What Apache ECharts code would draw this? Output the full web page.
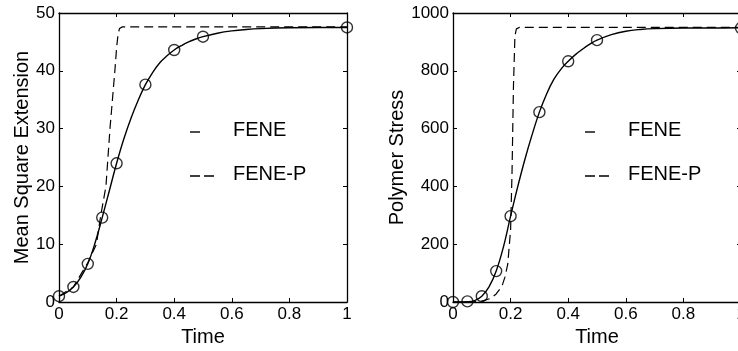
<!DOCTYPE html>
<html>
<head>
<meta charset="utf-8">
<script src="https://cdn.jsdelivr.net/npm/echarts@6/dist/echarts.min.js"></script>
<style>
html,body{margin:0;padding:0;background:#fff;}
#chart{width:738px;height:351px;}
</style>
</head>
<body>
<div id="chart"></div>
<script>
// ---- Left panel: Mean Square Extension ----
const timeSolidL = [0,0.025,0.05,0.075,0.1,0.125,0.15,0.175,0.2,0.225,0.25,0.275,0.3,0.325,0.35,0.375,0.4,0.425,0.45,0.475,0.5,0.55,0.6,0.65,0.7,0.8,0.9,1.0];
const extFENE    = [1.0,1.6,2.6,4.2,6.6,10.2,14.6,19.3,24.0,28.2,31.8,34.9,37.6,39.7,41.4,42.6,43.6,44.35,45.0,45.5,45.9,46.5,46.9,47.15,47.3,47.45,47.5,47.5];
const timeDashL  = [0,0.05,0.1,0.13,0.145,0.163,0.177,0.194,0.2,0.205,0.21,0.215,0.22,1.0];
const extFENEP   = [1.0,2.6,6.8,10,15,20,30,40,44,46.3,47.3,47.6,47.6,47.6];
const timeMarkL  = [0,0.05,0.1,0.15,0.2,0.3,0.4,0.5,1.0];
const extMark    = [1.0,2.6,6.6,14.6,24.0,37.6,43.6,45.9,47.5];

// ---- Right panel: Polymer Stress ----
const timeSolidR = [0,0.05,0.075,0.1,0.125,0.15,0.175,0.2,0.225,0.25,0.275,0.3,0.325,0.35,0.375,0.4,0.425,0.45,0.475,0.5,0.55,0.6,0.65,0.7,0.8,0.9,1.0];
const stressFENE = [0,1,5,20,52,107,190,297,400,495,580,657,720,770,806,833,856,875,892,906,925,937,943,946,948,948,949];
const timeDashR  = [0,0.05,0.1,0.13,0.15,0.17,0.18,0.19,0.2,0.205,0.21,0.215,0.22,0.23,1.0];
const stressFENEP= [0,0,3,12,28,55,85,130,250,450,750,920,945,950,950];
const timeMarkR  = [0,0.05,0.1,0.15,0.2,0.3,0.4,0.5,1.0];
const stressMark = [0,2,20,107,297,657,833,906,948];

// ---- Axis / labels ----
const xTicks = {min:0, max:1, interval:0.2};
const yTicksL = {min:0, max:50, interval:10};
const yTicksR = {min:0, max:1000, interval:200};
const xName = 'Time';
const yNameL = 'Mean Square Extension';
const yNameR = 'Polymer Stress';
const legendNames = ['FENE','FENE-P'];

const FONT = 'Liberation Sans, Arial, Helvetica, sans-serif';
const zip = (a,b) => a.map((v,i)=>[v,b[i]]);

const chart = echarts.init(document.getElementById('chart'), null, {renderer:'canvas'});

function xAx(grid, pos){
  const bottom = pos === 'bottom';
  return {
    type:'value', gridIndex:grid, position:pos, min:xTicks.min, max:xTicks.max, interval:xTicks.interval,
    name: bottom ? xName : '', nameLocation:'middle', nameGap:25,
    nameTextStyle:{fontFamily:FONT, fontSize:20, color:'#000'},
    axisLine:{show:true, onZero:false, lineStyle:{color:'#000', width:1.3}},
    axisTick:{show:true, inside:true, length:4, lineStyle:{color:'#000'}},
    axisLabel:{show:bottom, margin:4, fontFamily:FONT, fontSize:17, color:'#000', formatter:v=>String(v)},
    splitLine:{show:false}
  };
}
function yAx(grid, pos, t, name, gap){
  const left = pos === 'left';
  return {
    type:'value', gridIndex:grid, position:pos, min:t.min, max:t.max, interval:t.interval,
    name: left ? name : '', nameLocation:'middle', nameGap: gap || 26,
    nameTextStyle:{fontFamily:FONT, fontSize:20, color:'#000'},
    axisLine:{show:true, onZero:false, lineStyle:{color:'#000', width:1.3}},
    axisTick:{show:true, inside:true, length:4, lineStyle:{color:'#000'}},
    axisLabel:{show:left, margin:4, fontFamily:FONT, fontSize:17, color:'#000', formatter:v=>String(v)},
    splitLine:{show:false}
  };
}

const opt = {
  animation:false,
  backgroundColor:'#fff',
  grid:[
    {left:59, top:13, width:288, height:289, outerBoundsMode:'none', containLabel:false},
    {left:453, top:13, width:288, height:289, outerBoundsMode:'none', containLabel:false}
  ],
  xAxis:[xAx(0,'bottom'), xAx(0,'top'), xAx(1,'bottom'), xAx(1,'top')],
  yAxis:[
    yAx(0,'left',yTicksL,yNameL,26),
    yAx(0,'right',yTicksL,''),
    yAx(1,'left',yTicksR,yNameR,46),
    yAx(1,'right',yTicksR,'')
  ],
  series:[
    {name:'FENE', type:'line', xAxisIndex:0, yAxisIndex:0, data:zip(timeSolidL, extFENE), smooth:0.4, showSymbol:false, lineStyle:{color:'#000', width:1.4}},
    {name:'FENE-P', type:'line', xAxisIndex:0, yAxisIndex:0, data:zip(timeDashL, extFENEP), showSymbol:false, lineStyle:{color:'#000', width:1.2, type:[9,5]}},
    {name:'FENE markers', type:'scatter', xAxisIndex:0, yAxisIndex:0, data:zip(timeMarkL, extMark), symbol:'circle', symbolSize:11, itemStyle:{color:'rgba(0,0,0,0)', borderColor:'#000', borderWidth:1.4}},
    {name:'FENE', type:'line', xAxisIndex:2, yAxisIndex:2, data:zip(timeSolidR, stressFENE), smooth:0.4, showSymbol:false, lineStyle:{color:'#000', width:1.4}},
    {name:'FENE-P', type:'line', xAxisIndex:2, yAxisIndex:2, data:zip(timeDashR, stressFENEP), showSymbol:false, lineStyle:{color:'#000', width:1.2, type:[9,5]}},
    {name:'FENE markers', type:'scatter', xAxisIndex:2, yAxisIndex:2, data:zip(timeMarkR, stressMark), symbol:'circle', symbolSize:11, itemStyle:{color:'rgba(0,0,0,0)', borderColor:'#000', borderWidth:1.4}}
  ],
  graphic:[]
};

// legends drawn inside each panel
function legendGraphics(x0, yRow1, yRow2){
  return [
    {type:'line', shape:{x1:x0, y1:yRow1+2, x2:x0+10, y2:yRow1+2}, style:{stroke:'#000', lineWidth:1.4}},
    {type:'text', left:x0+43, top:yRow1-10, style:{text:legendNames[0], font:'20px '+FONT, fill:'#000'}},
    {type:'line', shape:{x1:x0, y1:yRow2+2, x2:x0+24, y2:yRow2+2}, style:{stroke:'#000', lineWidth:1.4, lineDash:[10,4]}},
    {type:'text', left:x0+43, top:yRow2-10, style:{text:legendNames[1], font:'20px '+FONT, fill:'#000'}}
  ];
}
opt.graphic = legendGraphics(190, 130, 174).concat(legendGraphics(585, 130, 174));

chart.setOption(opt);
</script>
</body>
</html>
